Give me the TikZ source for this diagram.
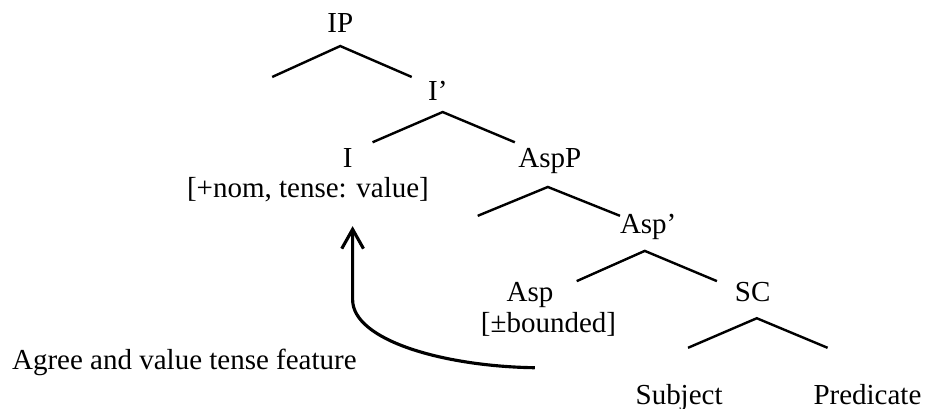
\documentclass[tikz,border=0pt]{standalone}
\usepackage{fontspec}
\setmainfont{Liberation Serif}
\usepackage{tikz}
\usetikzlibrary{arrows.meta}

\begin{document}
\begin{tikzpicture}[font=\fontsize{12}{14}\selectfont,
                    lbl/.style={anchor=base,inner sep=0pt},
                    branch/.style={line width=1pt}]
                              % Frame
                              \useasboundingbox (0,0) rectangle (13.53,5.95);

                              % Labels
                              \node[lbl] (ip) at (4.95,5.48) {IP};
                              \node[lbl] (ibar) at (6.37,4.49) {I’};
                              \node[lbl] (i) at (5.06,3.52) {I};
                              \node[lbl] (ifeat) at (4.48,3.07) {[+nom, tense: value]};
                              \node[lbl] (aspp) at (8.00,3.52) {AspP};
                              \node[lbl] (aspbar) at (9.43,2.56) {Asp’};
                              \node[lbl] (asp) at (7.71,1.56) {Asp};
                              \node[lbl] (aspfeat) at (7.98,1.11) {[±bounded]};
                              \node[lbl] (sc) at (10.95,1.56) {SC};
                              \node[lbl] (subj) at (9.88,0.07) {Subject};
                              \node[lbl] (pred) at (12.62,0.07) {Predicate};
                              \node[lbl,anchor=base west] (agree) at (0.17,0.58)
                                    {Agree and value tense feature};

                              % Branches
                              \draw[branch] (3.96,4.83) -- (4.95,5.28) -- (5.99,4.83);
                              \draw[branch] (5.42,3.88) -- (6.44,4.32) -- (7.49,3.88);
                              \draw[branch] (6.95,2.81) -- (7.97,3.23) -- (9.02,2.81);
                              \draw[branch] (8.39,1.86) -- (9.38,2.30) -- (10.43,1.86);
                              \draw[branch] (10.01,0.89) -- (11.01,1.32) -- (12.04,0.89);

                              % Agree arrow
                              \coordinate (tail) at (7.78,0.60);
                              \coordinate (tip) at (5.13,2.66);
                              \draw[line width=1.3pt,-{Straight Barb[length=8pt,width=9pt]}] (tail)
                              .. controls (6.45,0.62) and (5.13,1.00) .. (5.13,1.59)
                              -- (tip);
                        \end{tikzpicture}
\end{document}
